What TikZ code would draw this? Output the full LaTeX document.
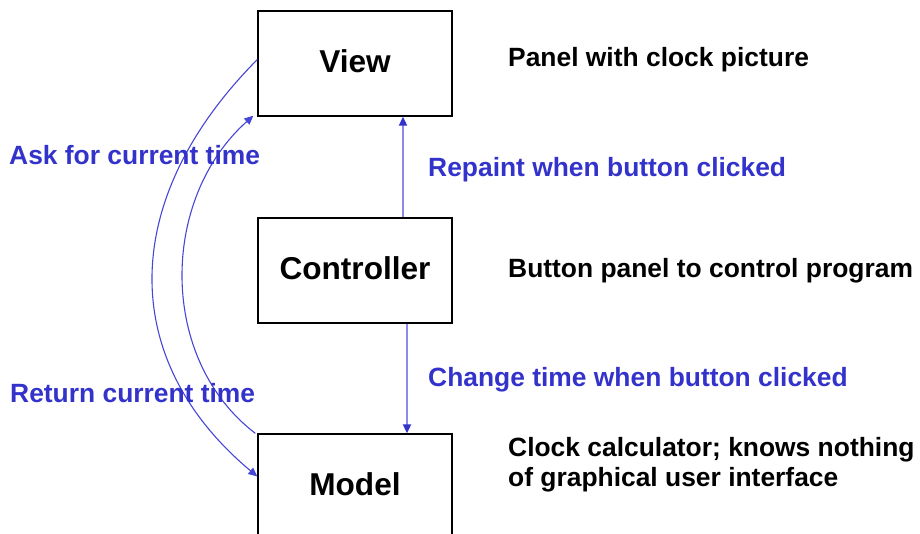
\documentclass[tikz,border=0pt]{standalone}
\usepackage{fontspec}
\setmainfont{Liberation Sans}
\usetikzlibrary{arrows.meta}

\definecolor{lblue}{RGB}{51,51,204}
\definecolor{pale}{RGB}{140,140,232}
\definecolor{curve}{RGB}{70,70,215}

\begin{document}
\begin{tikzpicture}[x=1pt, y=-1pt,
    box/.style={draw, line width=1.3pt, minimum width=194pt, minimum height=105pt,
      inner sep=0pt, text height=22.6pt, text depth=4pt,
      font=\fontsize{31.6}{36}\selectfont\bfseries},
    note/.style={anchor=base west, inner sep=0pt, align=left,
      font=\fontsize{26.4}{30}\selectfont\bfseries},
    msg/.style={note, text=lblue},
    call/.style={curve, line width=1.1pt, -{Triangle[length=9pt,width=8pt]}},
    push/.style={pale, line width=1.8pt, -{Triangle[length=9pt,width=8pt,color=lblue]}}]
  \useasboundingbox (0,0) rectangle (920,534);

  %--- the three boxes
  \node[box] (view)  at (355,63.5)  {View};
  \node[box] (ctrl)  at (355,270.5) {Controller};
  \node[box] (model) at (355,486.5) {Model};

  %--- what each part is
  \node[note] (viewinfo)  at (508,67)  {Panel with clock picture};
  \node[note] (ctrlinfo)  at (508,278) {Button panel to control program};
  \node[note] (modelinfo) at (508,486.5) {Clock calculator; knows nothing\\of graphical user interface};

  %--- controller pushes to view and model
  \draw[push] ([xshift=48pt]ctrl.north) -- ([xshift=48pt]view.south);
  \draw[push] ([xshift=52pt]ctrl.south) -- ([xshift=52pt]model.north);
  \node[msg] (repaint) at (428,177) {Repaint when button clicked};
  \node[msg] (change)  at (428,386) {Change time when button clicked};

  %--- view asks model for the time
  \draw[call] ([xshift=-2pt]model.north west) .. controls (159,360) and (159,200) .. ([xshift=-4pt,yshift=1pt]view.south west);
  \draw[call] ([yshift=4pt]view.west) .. controls (118,200) and (118,360) .. ([yshift=10pt]model.west);
  \node[msg] (ask) at (9,165) {Ask for current time};
  \node[msg] (ret) at (10,402) {Return current time};
\end{tikzpicture}
\end{document}
